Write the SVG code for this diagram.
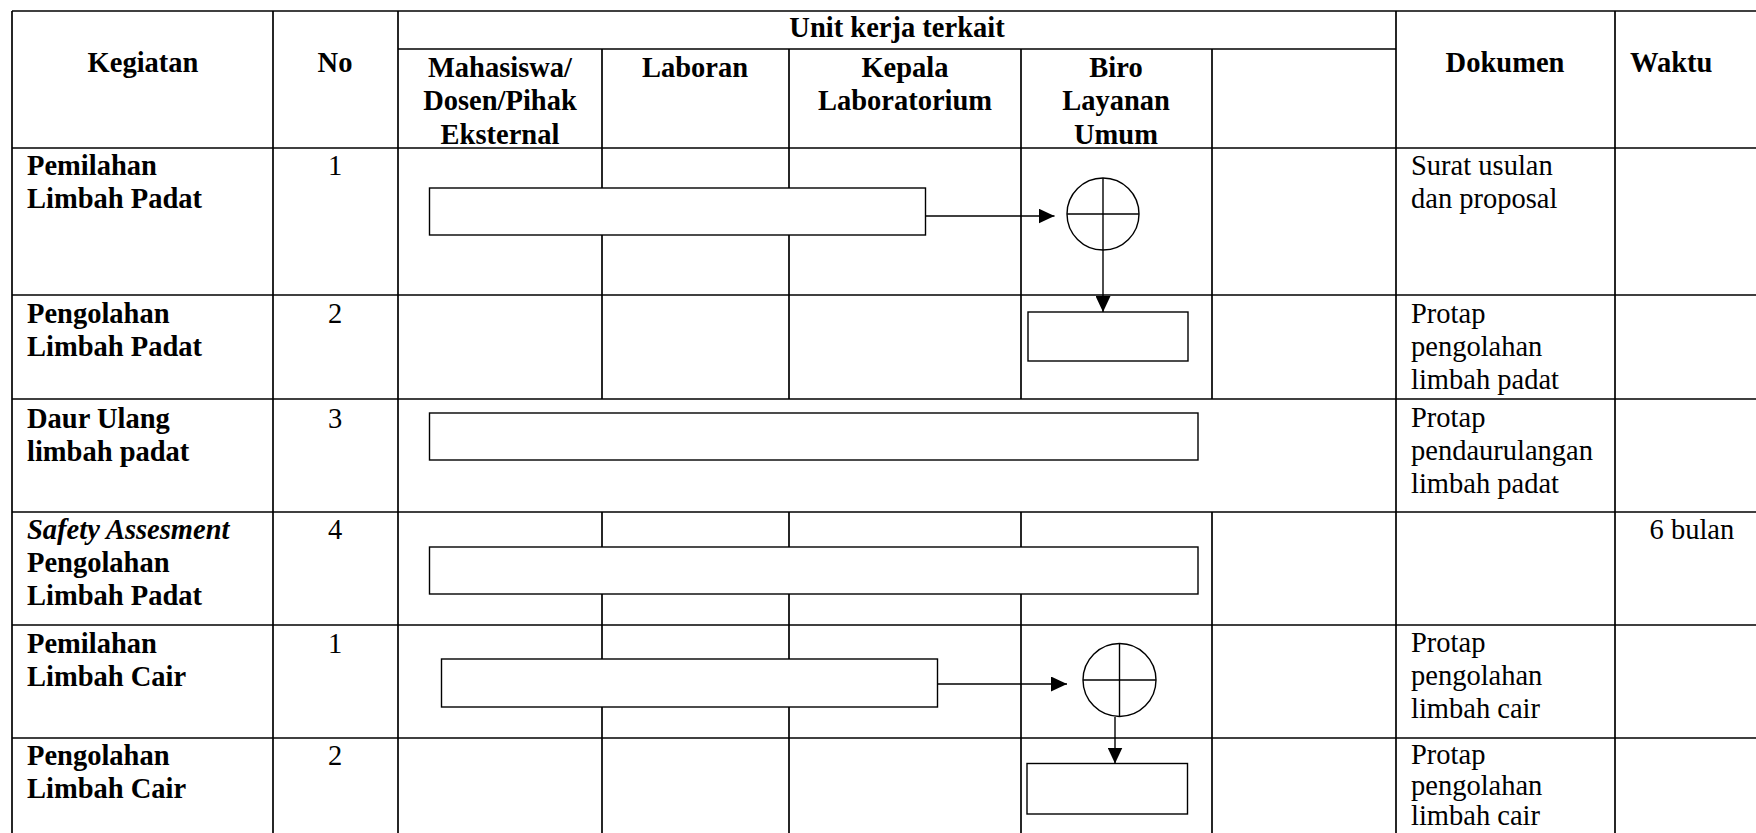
<svg xmlns="http://www.w3.org/2000/svg" width="1756" height="833" viewBox="0 0 1756 833">
<style>
text{font-family:"Liberation Serif","Times New Roman",serif;font-size:28.5px;fill:#000}
.b{font-weight:bold}
.bi{font-weight:bold;font-style:italic}
.c{text-anchor:middle}
.g{stroke:#000;stroke-width:1.7;fill:none}
.box{fill:#fff;stroke:#000;stroke-width:1.4}
.circ{fill:#fff;stroke:#000;stroke-width:1.4}
.cr{stroke:#000;stroke-width:1.4}
.con{stroke:#000;stroke-width:1.4;fill:none}
</style>
<defs>
<marker id="ah" markerUnits="userSpaceOnUse" markerWidth="17" markerHeight="15" refX="16" refY="7.5" orient="auto">
<path d="M0,0 L16,7.5 L0,15 z" fill="#000"/>
</marker>
</defs>
<rect width="1756" height="833" fill="#fff"/>
<g id="grid" class="g">
<line x1="12" y1="11" x2="1756" y2="11"/>
<line x1="398" y1="49" x2="1396" y2="49"/>
<line x1="12" y1="148" x2="1756" y2="148"/>
<line x1="12" y1="295" x2="1756" y2="295"/>
<line x1="12" y1="399" x2="1756" y2="399"/>
<line x1="12" y1="512" x2="1756" y2="512"/>
<line x1="12" y1="625" x2="1756" y2="625"/>
<line x1="12" y1="738" x2="1756" y2="738"/>
<line x1="12" y1="11" x2="12" y2="833"/>
<line x1="273" y1="11" x2="273" y2="833"/>
<line x1="398" y1="11" x2="398" y2="833"/>
<line x1="1396" y1="11" x2="1396" y2="833"/>
<line x1="1615" y1="11" x2="1615" y2="833"/>
<line x1="602" y1="49" x2="602" y2="399"/>
<line x1="789" y1="49" x2="789" y2="399"/>
<line x1="1021" y1="49" x2="1021" y2="399"/>
<line x1="1212" y1="49" x2="1212" y2="399"/>
<line x1="602" y1="512" x2="602" y2="833"/>
<line x1="789" y1="512" x2="789" y2="833"/>
<line x1="1021" y1="512" x2="1021" y2="833"/>
<line x1="1212" y1="512" x2="1212" y2="833"/>
</g>
<g id="header">
<text class="b c" x="897" y="37">Unit kerja terkait</text>
<text class="b c" x="143" y="72">Kegiatan</text>
<text class="b c" x="335" y="72">No</text>
<text class="b c" x="500" y="77">Mahasiswa/</text>
<text class="b c" x="500" y="110">Dosen/Pihak</text>
<text class="b c" x="500" y="143.5">Eksternal</text>
<text class="b c" x="695" y="77">Laboran</text>
<text class="b c" x="905" y="77">Kepala</text>
<text class="b c" x="905" y="110">Laboratorium</text>
<text class="b c" x="1116" y="77">Biro</text>
<text class="b c" x="1116" y="110">Layanan</text>
<text class="b c" x="1116" y="143.5">Umum</text>
<text class="b c" x="1505" y="72">Dokumen</text>
<text class="b" x="1630" y="72">Waktu</text>
</g>
<g id="rows">
<text class="b" x="27" y="175">Pemilahan</text>
<text class="b" x="27" y="208">Limbah Padat</text>
<text class="c" x="335" y="175">1</text>
<text x="1411" y="175">Surat usulan</text>
<text x="1411" y="208">dan proposal</text>

<text class="b" x="27" y="323">Pengolahan</text>
<text class="b" x="27" y="356">Limbah Padat</text>
<text class="c" x="335" y="323">2</text>
<text x="1411" y="323">Protap</text>
<text x="1411" y="356">pengolahan</text>
<text x="1411" y="389">limbah padat</text>

<text class="b" x="27" y="428">Daur Ulang</text>
<text class="b" x="27" y="461">limbah padat</text>
<text class="c" x="335" y="428">3</text>
<text x="1411" y="427">Protap</text>
<text x="1411" y="460">pendaurulangan</text>
<text x="1411" y="493">limbah padat</text>

<text class="bi" x="27" y="538.5">Safety Assesment</text>
<text class="b" x="27" y="572">Pengolahan</text>
<text class="b" x="27" y="605">Limbah Padat</text>
<text class="c" x="335" y="538.5">4</text>
<text x="1649.5" y="539">6 bulan</text>

<text class="b" x="27" y="653">Pemilahan</text>
<text class="b" x="27" y="686">Limbah Cair</text>
<text class="c" x="335" y="653">1</text>
<text x="1411" y="652">Protap</text>
<text x="1411" y="685">pengolahan</text>
<text x="1411" y="718">limbah cair</text>

<text class="b" x="27" y="765">Pengolahan</text>
<text class="b" x="27" y="798">Limbah Cair</text>
<text class="c" x="335" y="765">2</text>
<text x="1411" y="764">Protap</text>
<text x="1411" y="795">pengolahan</text>
<text x="1411" y="825">limbah cair</text>
</g>
<g id="node-p1"><rect class="box" x="429.5" y="188" width="496" height="47"/></g>
<g id="node-d1"><circle class="circ" cx="1103" cy="214" r="36"/><line class="cr" x1="1067" y1="214" x2="1139" y2="214"/><line class="cr" x1="1103" y1="178" x2="1103" y2="250"/></g>
<g id="node-p2"><rect class="box" x="1028" y="312" width="160" height="49"/></g>
<g id="node-p3"><rect class="box" x="429.5" y="413" width="768.5" height="47"/></g>
<g id="node-p4"><rect class="box" x="429.5" y="547" width="768.5" height="47"/></g>
<g id="node-p5"><rect class="box" x="441.5" y="659" width="496" height="48"/></g>
<g id="node-d2"><circle class="circ" cx="1119.5" cy="680" r="36.5"/><line class="cr" x1="1083" y1="680" x2="1156" y2="680"/><line class="cr" x1="1119.5" y1="643.5" x2="1119.5" y2="716.5"/></g>
<g id="node-p6"><rect class="box" x="1027" y="763.5" width="160.5" height="50.5"/></g>
<g id="connectors" class="con">
<line x1="925.5" y1="216" x2="1054.5" y2="216" marker-end="url(#ah)"/>
<line x1="1103" y1="250" x2="1103" y2="312" marker-end="url(#ah)"/>
<line x1="937.5" y1="684" x2="1067" y2="684" marker-end="url(#ah)"/>
<line x1="1115" y1="717" x2="1115" y2="763.5" marker-end="url(#ah)"/>
</g>
</svg>
